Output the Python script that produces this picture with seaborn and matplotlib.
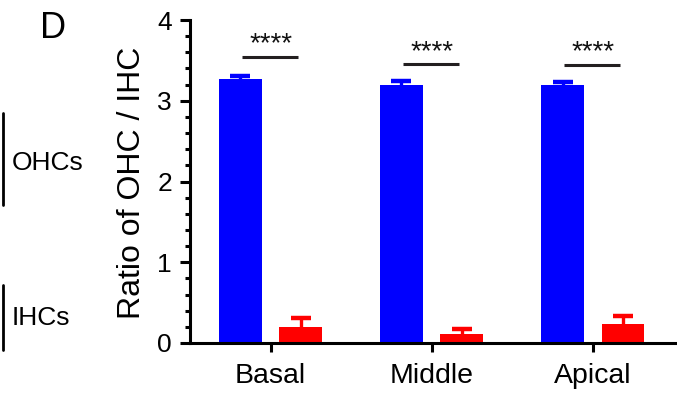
import matplotlib
matplotlib.use("Agg")
import matplotlib.pyplot as plt
from matplotlib.ticker import MultipleLocator
import numpy as np
import pandas as pd
import seaborn as sns

# ---- data ----
regions = ["Basal", "Middle", "Apical"]
cell_types = ["OHC", "IHC"]
ohc_mean = [3.27, 3.19, 3.19]
ohc_sem = [0.04, 0.06, 0.04]
ihc_mean = [0.20, 0.115, 0.23]
ihc_sem = [0.11, 0.055, 0.11]
sig_labels = ["****", "****", "****"]
sig_y = [3.54, 3.45, 3.44]
y_ticks = [0, 1, 2, 3, 4]
y_label = "Ratio of OHC / IHC"
panel_label = "D"
side_labels = ["OHCs", "IHCs"]

colors = {"OHC": "#0000FF", "IHC": "#FF0000"}

df = pd.DataFrame({
    "region": regions * 2,
    "cell": ["OHC"] * 3 + ["IHC"] * 3,
    "ratio": ohc_mean + ihc_mean,
})

sns.set_style("ticks")
plt.rcParams["font.family"] = ["Liberation Sans", "DejaVu Sans"]
plt.rcParams["text.color"] = "black"

fig = plt.figure(figsize=(6.77, 3.95), dpi=100)
ax = fig.add_axes([190 / 677, 1 - 343 / 395, 485 / 677, 323 / 395])

sns.barplot(data=df, x="region", y="ratio", hue="cell", order=regions,
            hue_order=cell_types, palette=colors, width=0.75, gap=0.29,
            errorbar=None, saturation=1, linewidth=0, legend=False, ax=ax)

sems = {"OHC": ohc_sem, "IHC": ihc_sem}
for cont, cell in zip(ax.containers, cell_types):
    xs = np.array([b.get_x() + b.get_width() / 2 for b in cont])
    ys = np.array([b.get_height() for b in cont])
    tops = ys + np.array(sems[cell])
    ax.vlines(xs, ys, tops, color=colors[cell], lw=2.4, zorder=1)
    ax.plot(xs, tops, ls="none", marker="_", markersize=14.4,
            markeredgewidth=3.2, color=colors[cell], zorder=1)

# significance lines
for i, (lab, yv) in enumerate(zip(sig_labels, sig_y)):
    ax.plot([i - 0.18, i + 0.17], [yv, yv], color="#231f20", lw=2.2,
            solid_capstyle="butt", clip_on=False)
    ax.text(i, yv + 0.07, lab, ha="center", va="baseline", fontsize=20,
            color="#111111")

ax.set_xlim(-0.5, 2.51)
ax.set_ylim(0, 4)
ax.set_yticks(y_ticks)
ax.yaxis.set_minor_locator(MultipleLocator(0.2))
ax.set_xlabel("")
ax.set_ylabel("")
sns.despine(ax=ax)
for s in ["left", "bottom"]:
    ax.spines[s].set_linewidth(2.2)
    ax.spines[s].set_color("black")
ax.tick_params(axis="y", which="major", length=7, width=2.2, pad=6,
               labelsize=19, color="black", labelcolor="black")
ax.tick_params(axis="y", which="minor", length=3.6, width=2.2, color="black")
ax.tick_params(axis="x", which="major", length=6.5, width=2.2, pad=8,
               labelsize=20.5, color="black", labelcolor="black")

fig.text(132 / 677, 1 - 183 / 395, y_label, rotation=90, ha="center",
         va="center", fontsize=23)
fig.text(53 / 677, 1 - 28 / 395, panel_label, ha="center", va="center",
         fontsize=26)

# left side markers
fig.add_artist(plt.Line2D([3 / 677, 3 / 677], [1 - 113 / 395, 1 - 205 / 395],
                          color="black", lw=2))
fig.add_artist(plt.Line2D([3 / 677, 3 / 677], [1 - 285 / 395, 1 - 350 / 395],
                          color="black", lw=2))
fig.text(12 / 677, 1 - 163 / 395, side_labels[0], ha="left", va="center",
         fontsize=19)
fig.text(12 / 677, 1 - 318 / 395, side_labels[1], ha="left", va="center",
         fontsize=19)

fig.savefig("out.png", dpi=100)
